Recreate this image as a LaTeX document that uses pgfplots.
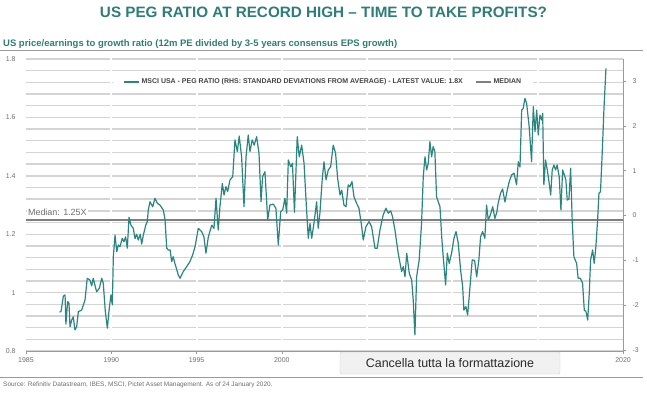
\documentclass[border=0pt]{standalone}
\usepackage{pgfplots}
\pgfplotsset{compat=1.18}
\usepackage{fontspec}
\setmainfont{Liberation Sans}
\definecolor{teal1}{HTML}{2A857F}
\definecolor{titlec}{HTML}{2E7D78}
\definecolor{subc}{HTML}{2B7F72}
\definecolor{gridc}{HTML}{D4D4D4}
\definecolor{axc}{HTML}{9A9A9A}
\definecolor{labc}{HTML}{6E6E6E}
\definecolor{medc}{HTML}{7F7F7F}
\definecolor{legc}{HTML}{444444}
\definecolor{tipfill}{HTML}{F1F1F1}
\definecolor{tipdraw}{HTML}{CFCFCF}
\definecolor{tiptext}{HTML}{2A2A2A}

\begin{document}
\begin{tikzpicture}[x=1bp,y=1bp]
\useasboundingbox (0,0) rectangle (647,397);
\node[text=titlec, inner sep=0] at (323.5,384.5) {\resizebox{447bp}{10.5bp}{\bfseries US PEG RATIO AT RECORD HIGH – TIME TO TAKE PROFITS?}};
\node[text=subc, inner sep=0, anchor=base west] at (3,351) {\resizebox{394bp}{!}{\bfseries US price/earnings to growth ratio (12m PE divided by 3-5 years consensus EPS growth)}};
\draw[axc, line width=0.8bp] (0,347) -- (643,347);

\begin{axis}[
  at={(26bp,46bp)}, anchor=south west,
  scale only axis, width=597bp, height=292bp,
  xmin=1985, xmax=2020, ymin=0.8, ymax=1.8,
  axis x line*=bottom, axis y line*=left,
  axis line style={-},
  y axis line style={draw=none},
  x axis line style={draw=axc, line width=0.6bp},
  xtick={1985,1990,...,2020},
  xticklabels={1985,1990,1995,2000,,,,2020},
  ytick={0.8,1,1.2,1.4,1.6,1.8},
  minor y tick num=4,
  ymajorgrids, yminorgrids,
  major grid style={draw=gridc, line width=1.4bp},
  minor grid style={draw=gridc, line width=1.4bp},
  ytick style={draw=none},
  minor tick length=0pt,
  xtick style={draw=axc, line width=0.6bp},
  tick align=outside, major tick length=3bp,
  ticklabel style={font=\fontsize{7}{8}\selectfont, text=labc},
  yticklabel style={xshift=-4bp},
  /pgf/number format/assume math mode=true,
  /pgf/number format/1000 sep={},
  legend columns=2,
  legend style={at={(0.498,0.921)}, anchor=center, draw=none, fill=white,
    inner xsep=10bp, inner ysep=1bp,
    font=\fontsize{7}{8}\selectfont\bfseries, text=legc,
    /tikz/every even column/.append style={column sep=10bp}},
  legend image code/.code={\draw[#1] (0bp,0bp) -- (15bp,0bp);},
]
\pgfplotsinvokeforeach{1990,1995,2000,2005,2010,2015}{
  \draw[white, line width=2bp] (axis cs:#1,0.803) -- (axis cs:#1,1.805);
}
\addplot[medc, line width=1.8bp, forget plot] coordinates {(1985,1.25) (2020,1.25)};
\node[anchor=base west, fill=white, inner sep=1bp, text=labc, font=\fontsize{9}{10}\selectfont] at ([yshift=4bp]axis cs:1985.05,1.25) {Median: 1.25X};
\addplot[teal1, line width=1.2bp, line join=round] coordinates {
(1986.95,0.934) (1987.05,0.934) (1987.19,0.988) (1987.29,0.992) (1987.34,0.892)
(1987.44,0.969) (1987.52,0.964) (1987.58,0.883) (1987.68,0.906) (1987.77,0.917)
(1987.87,0.872) (1987.97,0.883) (1988.07,0.935) (1988.26,0.940) (1988.46,0.975)
(1988.59,1.049) (1988.75,1.043) (1988.85,1.023) (1988.94,1.049) (1989.14,1.003)
(1989.30,1.015) (1989.44,1.049) (1989.53,1.032) (1989.65,0.935) (1989.77,0.878)
(1989.87,0.940) (1989.98,0.992) (1990.06,0.958) (1990.12,1.123) (1990.22,1.197)
(1990.32,1.140) (1990.41,1.163) (1990.51,1.157) (1990.64,1.186) (1990.74,1.174)
(1990.84,1.191) (1990.94,1.152) (1991.04,1.258) (1991.15,1.231) (1991.29,1.220)
(1991.39,1.185) (1991.49,1.200) (1991.58,1.180) (1991.70,1.200) (1991.78,1.166)
(1991.88,1.197) (1992.02,1.231) (1992.11,1.243) (1992.17,1.283) (1992.27,1.311)
(1992.43,1.294) (1992.56,1.323) (1992.70,1.306) (1992.85,1.300) (1993.05,1.283)
(1993.15,1.250) (1993.25,1.152) (1993.34,1.146) (1993.45,1.146) (1993.54,1.106)
(1993.63,1.123) (1993.73,1.100) (1993.93,1.060) (1994.03,1.049) (1994.22,1.072)
(1994.42,1.089) (1994.61,1.106) (1994.77,1.129) (1994.91,1.157) (1995.10,1.220)
(1995.30,1.209) (1995.43,1.191) (1995.55,1.135) (1995.69,1.191) (1995.89,1.231)
(1996.02,1.220) (1996.14,1.323) (1996.27,1.214) (1996.37,1.294) (1996.51,1.374)
(1996.61,1.334) (1996.72,1.363) (1996.82,1.346) (1996.96,1.386) (1997.12,1.397)
(1997.25,1.523) (1997.39,1.483) (1997.50,1.536) (1997.64,1.465) (1997.78,1.294)
(1997.90,1.465) (1998.03,1.540) (1998.13,1.483) (1998.26,1.523) (1998.38,1.505)
(1998.52,1.534) (1998.66,1.477) (1998.78,1.311) (1998.87,1.397) (1999.01,1.414)
(1999.17,1.249) (1999.30,1.300) (1999.50,1.303) (1999.65,1.289) (1999.79,1.163)
(1999.93,1.277) (2000.05,1.283) (2000.18,1.323) (2000.28,1.272) (2000.38,1.454)
(2000.52,1.431) (2000.62,1.443) (2000.74,1.275) (2000.90,1.534) (2001.02,1.465)
(2001.16,1.505) (2001.30,1.443) (2001.45,1.283) (2001.55,1.186) (2001.65,1.237)
(2001.75,1.186) (2001.88,1.237) (2002.04,1.311) (2002.13,1.220) (2002.23,1.272)
(2002.37,1.391) (2002.47,1.448) (2002.59,1.386) (2002.72,1.420) (2002.86,1.431)
(2003.01,1.505) (2003.15,1.477) (2003.27,1.391) (2003.41,1.334) (2003.51,1.351)
(2003.64,1.300) (2003.76,1.294) (2003.89,1.369) (2003.99,1.363) (2004.11,1.380)
(2004.23,1.328) (2004.38,1.306) (2004.52,1.289) (2004.68,1.226) (2004.77,1.180)
(2004.93,1.226) (2005.11,1.243) (2005.26,1.226) (2005.46,1.152) (2005.59,1.152)
(2005.75,1.214) (2005.94,1.266) (2006.10,1.289) (2006.24,1.272) (2006.38,1.280)
(2006.49,1.260) (2006.63,1.214) (2006.82,1.135) (2007.02,1.072) (2007.12,1.089)
(2007.22,1.054) (2007.32,1.135) (2007.47,1.066) (2007.61,1.043) (2007.70,0.975)
(2007.80,0.855) (2007.90,1.054) (2008.05,1.112) (2008.19,1.237) (2008.29,1.397)
(2008.39,1.465) (2008.49,1.420) (2008.58,1.443) (2008.68,1.517) (2008.78,1.465)
(2008.87,1.500) (2008.97,1.483) (2009.07,1.328) (2009.27,1.294) (2009.37,1.191)
(2009.46,1.123) (2009.60,1.026) (2009.70,1.135) (2009.81,1.100) (2009.95,1.135)
(2010.09,1.186) (2010.21,1.209) (2010.34,1.169) (2010.48,1.077) (2010.60,1.020)
(2010.67,0.940) (2010.79,0.952) (2010.89,0.923) (2011.03,1.020) (2011.16,1.112)
(2011.30,1.110) (2011.42,1.054) (2011.55,1.112) (2011.65,1.191) (2011.77,1.209)
(2011.90,1.186) (2012.00,1.300) (2012.10,1.249) (2012.22,1.265) (2012.36,1.294)
(2012.49,1.254) (2012.60,1.275) (2012.68,1.306) (2012.82,1.340) (2012.94,1.355)
(2013.08,1.310) (2013.21,1.350) (2013.33,1.380) (2013.47,1.403) (2013.61,1.409)
(2013.76,1.369) (2013.86,1.448) (2013.96,1.430) (2014.06,1.625) (2014.15,1.631)
(2014.25,1.665) (2014.35,1.648) (2014.50,1.568) (2014.64,1.448) (2014.74,1.637)
(2014.84,1.551) (2014.94,1.625) (2015.03,1.540) (2015.13,1.608) (2015.23,1.591)
(2015.29,1.614) (2015.36,1.369) (2015.46,1.454) (2015.56,1.420) (2015.66,1.380)
(2015.76,1.334) (2015.85,1.420) (2015.95,1.437) (2016.05,1.420) (2016.14,1.437)
(2016.26,1.397) (2016.36,1.283) (2016.46,1.420) (2016.55,1.405) (2016.65,1.386)
(2016.73,1.317) (2016.83,1.320) (2016.93,1.426) (2017.02,1.249) (2017.12,1.123)
(2017.28,1.100) (2017.37,1.049) (2017.50,1.049) (2017.63,1.032) (2017.73,0.940)
(2017.83,0.935) (2017.93,0.906) (2018.02,0.997) (2018.10,1.112) (2018.22,1.146)
(2018.31,1.100) (2018.41,1.157) (2018.51,1.249) (2018.59,1.340) (2018.68,1.345)
(2018.78,1.477) (2018.88,1.625) (2019.00,1.768)
};
\addlegendentry{MSCI USA - PEG RATIO (RHS: STANDARD DEVIATIONS FROM AVERAGE) - LATEST VALUE: 1.8X}
\addlegendimage{medc, line width=1.8bp}
\addlegendentry{MEDIAN}
\end{axis}

\begin{axis}[
  at={(26bp,46bp)}, anchor=south west,
  scale only axis, width=597bp, height=292bp,
  xmin=1985, xmax=2020, ymin=-3.02, ymax=3.49,
  axis x line=none, axis y line*=right,
  axis line style={-},
  y axis line style={draw=axc, line width=0.6bp},
  ytick={-3,-2,-1,0,1,2,3},
  ytick style={draw=axc, line width=0.6bp},
  tick align=outside, major tick length=3bp,
  yticklabel style={font=\fontsize{7}{8}\selectfont, text=labc, xshift=3bp},
  /pgf/number format/assume math mode=true,
]
\end{axis}

\node[fill=tipfill, draw=tipdraw, rounded corners=1.5bp, minimum width=220bp, minimum height=22bp, inner sep=0, text=tiptext, font=\fontsize{12.5}{14}\selectfont] at (450,34) {Cancella tutta la formattazione};
\draw[axc, line width=0.8bp] (0,20) -- (643,20);
\node[anchor=base west, inner sep=0, text=labc, font=\fontsize{6.5}{7}\selectfont] at (3,11) {Source: Refinitiv Datastream, IBES, MSCI, Pictet Asset Management. As of 24 January 2020.};
\end{tikzpicture}
\end{document}
